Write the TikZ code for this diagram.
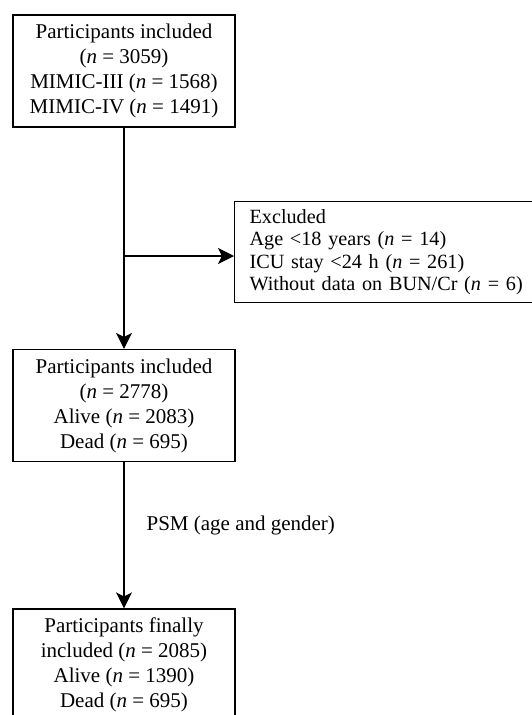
\documentclass[tikz,border=0pt]{standalone}
\usepackage{fontspec}
\setmainfont{Liberation Serif}
\usetikzlibrary{arrows.meta}
\usetikzlibrary{positioning}

\tikzset{
	flowbox/.style={draw=black, line width=1.2pt, align=center, minimum width=222pt,
		minimum height=112pt, inner sep=0pt, font=\fontsize{21}{25}\selectfont},
	exclbox/.style={draw=black, line width=1.2pt, align=left, anchor=north west,
		minimum width=330pt, minimum height=101pt, inner xsep=13pt, inner ysep=0pt,
		text width=300pt, font=\fontsize{20.2}{22.5}\selectfont},
	flowarrow/.style={-{Stealth[length=16pt,width=16pt,inset=4pt]}, line width=1.2pt}
}

\begin{document}
\begin{tikzpicture}[x=1pt, y=-1pt]
	\clip (0,0) rectangle (532,715);
	\fill[white] (0,0) rectangle (532,715);

	\node[flowbox] (incl) at (124,71) {Participants included\\(\textit{n} = 3059)\\MIMIC-III (\textit{n} = 1568)\\MIMIC-IV (\textit{n} = 1491)};
	\node[exclbox] (excl) at (234,201) {Excluded\\Age <18 years (\textit{n} = 14)\\ICU stay <24 h (\textit{n} = 261)\\Without data on BUN/Cr (\textit{n} = 6)};
	\node[flowbox] (incl2) at (124,405.5) {Participants included\\(\textit{n} = 2778)\\Alive (\textit{n} = 2083)\\Dead (\textit{n} = 695)};
	\node[flowbox] (final) at (124,665) {Participants finally\\included (\textit{n} = 2085)\\Alive (\textit{n} = 1390)\\Dead (\textit{n} = 695)};
	\coordinate (split) at (124,256);

	\draw[flowarrow] (incl) -- (incl2);
	\draw[flowarrow] (split) -- (split -| excl.west);
	\draw[flowarrow] (incl2) -- node[pos=0.43, right=22pt, inner sep=0pt,
		font=\fontsize{21}{25}\selectfont] (psm) {PSM (age and gender)} (final);
\end{tikzpicture}
\end{document}
